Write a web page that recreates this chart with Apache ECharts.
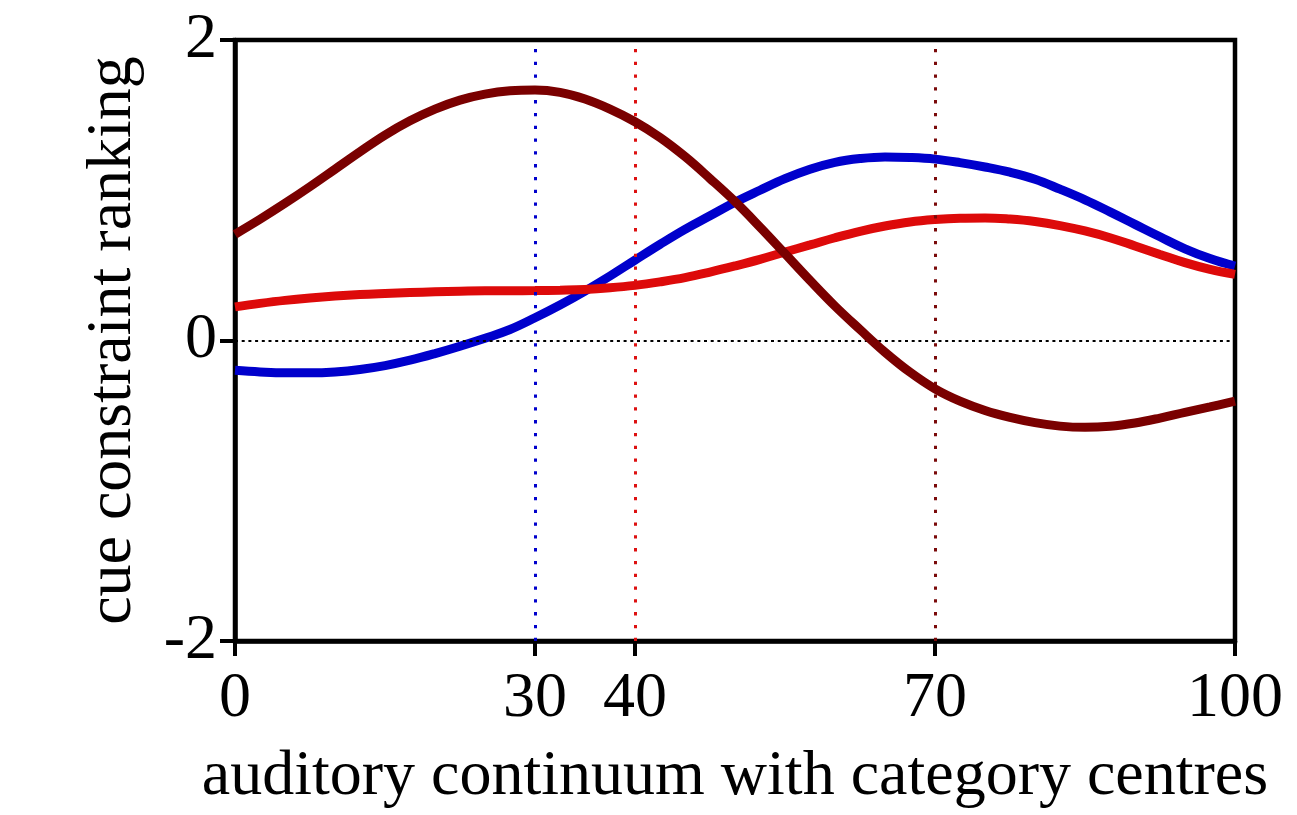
<!DOCTYPE html>
<html>
<head>
<meta charset="utf-8">
<script src="https://cdn.jsdelivr.net/npm/echarts@6/dist/echarts.min.js"></script>
<style>
html,body{margin:0;padding:0;background:#fff;}
#chart{width:1297px;height:815px;}
</style>
</head>
<body>
<div id="chart"></div>
<script>
// Data (x step 2.5)
var xs = [0, 2.5, 5, 7.5, 10, 12.5, 15, 17.5, 20, 22.5, 25, 27.5, 30, 32.5, 35, 37.5, 40, 42.5, 45, 47.5,
          50, 52.5, 55, 57.5, 60, 62.5, 65, 67.5, 70, 72.5, 75, 77.5, 80, 82.5, 85, 87.5, 90, 92.5, 95, 97.5, 100];
var blueVals = [-0.198, -0.209, -0.215, -0.215, -0.209, -0.193, -0.167, -0.131, -0.087, -0.038,
                0.015, 0.073, 0.151, 0.236, 0.329, 0.429, 0.535, 0.640, 0.740, 0.830,
                0.920, 1.000, 1.077, 1.140, 1.186, 1.211, 1.222, 1.218, 1.207, 1.184,
                1.155, 1.120, 1.073, 1.007, 0.936, 0.856, 0.773, 0.690, 0.610, 0.545, 0.495];
var redVals = [0.224, 0.247, 0.267, 0.283, 0.296, 0.306, 0.313, 0.319, 0.324, 0.328,
               0.331, 0.331, 0.332, 0.335, 0.340, 0.351, 0.367, 0.390, 0.418, 0.455,
               0.496, 0.540, 0.589, 0.636, 0.684, 0.727, 0.762, 0.789, 0.805, 0.814,
               0.816, 0.808, 0.792, 0.765, 0.729, 0.684, 0.629, 0.573, 0.518, 0.473, 0.440];
var darkRedVals = [0.707, 0.807, 0.913, 1.024, 1.140, 1.256, 1.367, 1.462, 1.540, 1.600,
                   1.640, 1.662, 1.667, 1.651, 1.607, 1.540, 1.456, 1.351, 1.224, 1.078,
                   0.925, 0.755, 0.578, 0.400, 0.229, 0.073, -0.078, -0.211, -0.322, -0.404,
                   -0.466, -0.512, -0.547, -0.570, -0.578, -0.571, -0.549, -0.516, -0.478, -0.442, -0.404];
var centres = [30, 40, 70];
var xTickLabels = [0, 30, 40, 70, 100];
var yTicks = [-2, 0, 2];
var xTitle = 'auditory continuum with category centres';
var yTitle = 'cue constraint ranking';

var BLUE = '#0000cc', RED = '#dd0a0a', DARK = '#7a0000';
var centreColors = ['#0000cc', '#dd1010', '#7a0a0a'];
function pairs(v){ return xs.map(function(x,i){ return [x, v[i]]; }); }

var FONT = 'Liberation Serif';
var chart = echarts.init(document.getElementById('chart'));
chart.setOption({
  animation: false,
  backgroundColor: '#fff',
  grid: { left: 235, right: 62, top: 40, bottom: 174, show: true, borderColor: '#000', borderWidth: 4.5 },
  xAxis: {
    type: 'value', min: 0, max: 100, interval: 10,
    name: xTitle, nameLocation: 'middle', nameGap: 104,
    nameTextStyle: { fontFamily: FONT, fontSize: 64, color: '#000' },
    axisLine: { onZero: false, lineStyle: { color: '#000', width: 4.5 } },
    axisTick: { show: true, length: 15, lineStyle: { color: '#000', width: 4 }, customValues: xTickLabels },
    axisLabel: { fontFamily: FONT, fontSize: 64, color: '#000', margin: 26, customValues: xTickLabels },
    splitLine: { show: false }
  },
  yAxis: {
    type: 'value', min: -2, max: 2, interval: 2,
    name: yTitle, nameLocation: 'middle', nameGap: 90, nameRotate: 90,
    nameTextStyle: { fontFamily: FONT, fontSize: 64, color: '#000' },
    axisLine: { onZero: false, lineStyle: { color: '#000', width: 4.5 } },
    axisTick: { show: true, length: 15, lineStyle: { color: '#000', width: 4 }, customValues: yTicks },
    axisLabel: { fontFamily: FONT, fontSize: 64, color: '#000', margin: 18, customValues: yTicks },
    splitLine: { show: false }
  },
  series: [
    { type: 'line', data: pairs(blueVals), smooth: 0.4, symbol: 'none', z: 2,
      lineStyle: { color: BLUE, width: 9 } },
    { type: 'line', data: pairs(redVals), smooth: 0.4, symbol: 'none', z: 3,
      lineStyle: { color: RED, width: 9 } },
    { type: 'line', data: [], symbol: 'none', z: 4,
      markLine: {
        silent: true, symbol: ['none', 'none'], label: { show: false }, z: 4,
        data: centres.map(function(c, i){
          return { xAxis: c, lineStyle: { color: centreColors[i], width: 3, type: [3.3, 9.5] } };
        }).concat([{ yAxis: 0, lineStyle: { color: '#000', width: 2, type: [3, 3.7] } }])
      } },
    { type: 'line', data: pairs(darkRedVals), smooth: 0.4, symbol: 'none', z: 6,
      lineStyle: { color: DARK, width: 9 } }
  ]
});
</script>
</body>
</html>
